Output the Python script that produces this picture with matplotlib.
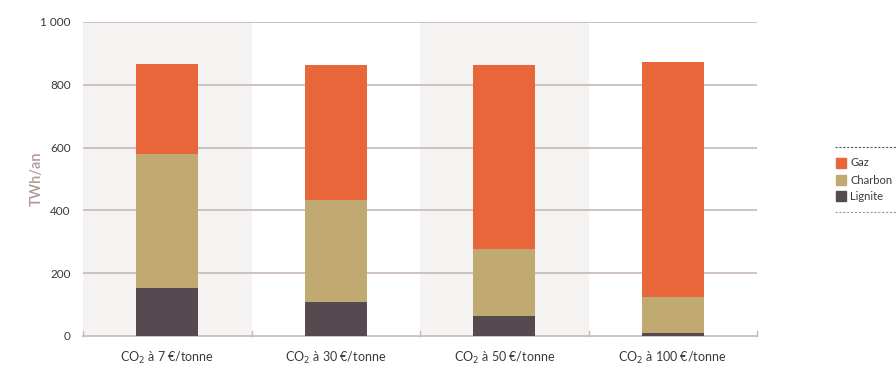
import matplotlib
matplotlib.use("Agg")
import matplotlib.pyplot as plt
from matplotlib.patches import Rectangle
from matplotlib.lines import Line2D
import numpy as np

plt.rcParams['font.family'] = ['Lato', 'DejaVu Sans']

categories = ["CO$_2$ à 7 €/tonne", "CO$_2$ à 30 €/tonne", "CO$_2$ à 50 €/tonne", "CO$_2$ à 100 €/tonne"]
lignite = [153, 108, 64, 10]
charbon = [427, 325, 213, 114]
gaz = [286, 430, 586, 749]
series_names = ["Gaz", "Charbon", "Lignite"]
yticks = [0, 200, 400, 600, 800, 1000]
ytick_labels = ["0", "200", "400", "600", "800", "1 000"]

c_gaz = "#e8663a"
c_charbon = "#c0aa72"
c_lignite = "#564a50"
grid_c = "#c6b8b8"
text_c = "#3a3a3a"

fig = plt.figure(figsize=(8.96, 3.70), dpi=100)
ax = fig.add_axes([83/896, 34/370, 674/896, 314/370])

x = np.arange(len(categories))
ax.set_xlim(-0.5, len(categories) - 0.5)
ax.set_ylim(0, 1000)

for i in range(len(categories)):
    if i % 2 == 0:
        ax.axvspan(i - 0.5, i + 0.5, color="#f5f3f1", zorder=0, lw=0)

for y in yticks[1:]:
    ax.axhline(y, color=grid_c, lw=1.2, zorder=1)

w = 0.37
ax.bar(x, lignite, w, color=c_lignite, zorder=3)
ax.bar(x, charbon, w, bottom=lignite, color=c_charbon, zorder=3)
bot2 = np.array(lignite) + np.array(charbon)
ax.bar(x, gaz, w, bottom=bot2, color=c_gaz, zorder=3)

for s in ["top", "right", "left"]:
    ax.spines[s].set_visible(False)
ax.spines["bottom"].set_color(grid_c)
ax.spines["bottom"].set_linewidth(1.2)

ax.set_yticks(yticks)
ax.set_yticklabels(ytick_labels, fontsize=8.5, color=text_c)
ax.tick_params(axis="y", length=0, pad=9)
ax.set_xticks(x)
ax.set_xticklabels(categories, fontsize=9, color=text_c)
ax.tick_params(axis="x", length=0, pad=10)
for b in np.arange(-0.5, len(categories), 1.0):
    ax.plot([b, b], [0, 15], color=grid_c, lw=1.0, zorder=2, clip_on=False)

ax.set_ylabel("TWh/an", fontsize=10.5, color="#b09896", fontweight="semibold")
ax.yaxis.set_label_coords(-39/674, 0.5)

# legend
fx = lambda px: px / 896
fy = lambda py: 1 - py / 370
fig.add_artist(Line2D([fx(835), fx(896)], [fy(147), fy(147)], color="#555555", lw=0.8, ls=(0, (2, 1.5))))
fig.add_artist(Line2D([fx(835), fx(896)], [fy(212), fy(212)], color="#999999", lw=0.8, ls=(0, (2, 1.5))))
for name, col, py in zip(series_names, [c_gaz, c_charbon, c_lignite], [163, 180, 196]):
    fig.add_artist(Rectangle((fx(836), fy(py + 5)), 10/896, 10/370, color=col, transform=fig.transFigure))
    fig.text(fx(850), fy(py), name, fontsize=8, color=text_c, va="center", ha="left")

fig.savefig("out.png", dpi=100)
